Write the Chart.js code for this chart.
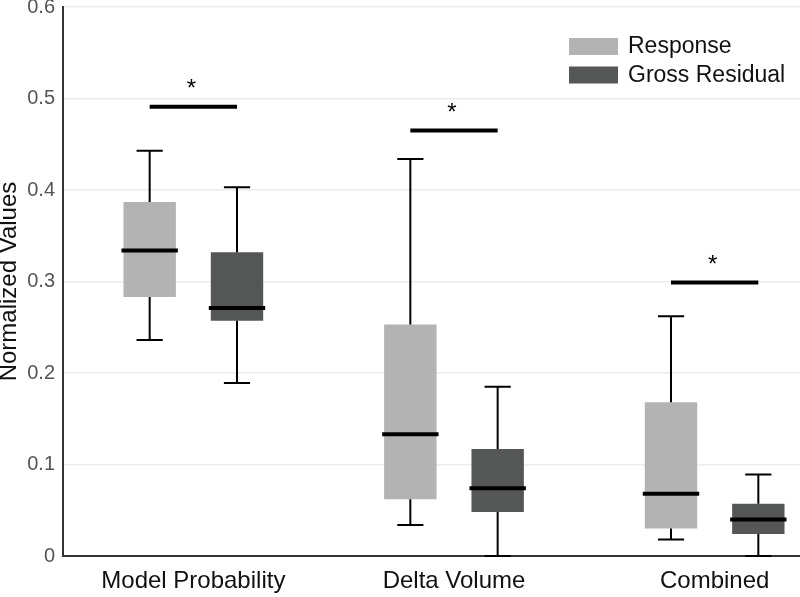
<!DOCTYPE html>
<html>
<head>
<meta charset="utf-8">
<script src="https://cdn.jsdelivr.net/npm/chart.js@4"></script>
<style>
  html, body { margin: 0; padding: 0; background: #fff; overflow: hidden; }
  #wrap { width: 845px; height: 597px; }
</style>
</head>
<body>
<div id="wrap"><canvas id="chart" width="845" height="597"></canvas></div>
<script>
// categories and box values
const categories = ['Model Probability', 'Delta Volume', 'Combined'];
const seriesNames = ['Response', 'Gross Residual'];
const seriesColors = ['#b3b3b3', '#555756'];

const responseLow    = [0.236, 0.034, 0.018];
const responseQ1     = [0.283, 0.062, 0.030];
const responseMedian = [0.334, 0.133, 0.068];
const responseQ3     = [0.387, 0.253, 0.168];
const responseHigh   = [0.443, 0.434, 0.262];

const grossLow    = [0.189, 0.000, 0.000];
const grossQ1     = [0.257, 0.048, 0.024];
const grossMedian = [0.271, 0.074, 0.040];
const grossQ3     = [0.332, 0.117, 0.057];
const grossHigh   = [0.403, 0.185, 0.089];

// significance bars (y value of each bar)
const sigBarY = [0.491, 0.465, 0.299];
const sigLabel = '*';

const yTicks = [0, 0.1, 0.2, 0.3, 0.4, 0.5, 0.6];

const FONT = '"Liberation Sans", Arial, sans-serif';

const boxStats = [
  { low: responseLow, q1: responseQ1, med: responseMedian, q3: responseQ3, high: responseHigh },
  { low: grossLow, q1: grossQ1, med: grossMedian, q3: grossQ3, high: grossHigh }
];

// whiskers, medians, significance marks and legend
const boxExtras = {
  id: 'boxExtras',
  afterDatasetsDraw(chart) {
    const ctx = chart.ctx;
    const y = chart.scales.y;
    ctx.save();
    ctx.strokeStyle = '#000';

    boxStats.forEach((s, di) => {
      const meta = chart.getDatasetMeta(di);
      meta.data.forEach((bar, i) => {
        const x = bar.x;
        const w = bar.width;
        const capW = w / 2;
        ctx.lineWidth = 2;
        ctx.beginPath();
        ctx.moveTo(x, y.getPixelForValue(s.q3[i]));
        ctx.lineTo(x, y.getPixelForValue(s.high[i]));
        ctx.moveTo(x, y.getPixelForValue(s.q1[i]));
        ctx.lineTo(x, y.getPixelForValue(s.low[i]));
        ctx.moveTo(x - capW / 2, y.getPixelForValue(s.high[i]));
        ctx.lineTo(x + capW / 2, y.getPixelForValue(s.high[i]));
        ctx.moveTo(x - capW / 2, y.getPixelForValue(s.low[i]));
        ctx.lineTo(x + capW / 2, y.getPixelForValue(s.low[i]));
        ctx.stroke();

        // median
        ctx.lineWidth = 4;
        ctx.beginPath();
        ctx.moveTo(x - w / 2 - 2, y.getPixelForValue(s.med[i]));
        ctx.lineTo(x + w / 2 + 2, y.getPixelForValue(s.med[i]));
        ctx.stroke();
      });
    });

    // significance bars
    const m0 = chart.getDatasetMeta(0);
    const m1 = chart.getDatasetMeta(1);
    ctx.fillStyle = '#000';
    ctx.font = '24px ' + FONT;
    ctx.textAlign = 'center';
    ctx.textBaseline = 'middle';
    sigBarY.forEach((v, i) => {
      const x0 = m0.data[i].x;
      const x1 = m1.data[i].x;
      const py = y.getPixelForValue(v);
      ctx.lineWidth = 4;
      ctx.beginPath();
      ctx.moveTo(x0, py);
      ctx.lineTo(x1, py);
      ctx.stroke();
      ctx.fillText(sigLabel, (x0 + x1) / 2 - 2, py - 17);
    });

    // legend in the top right corner
    const lx = 569, ly = 38;
    ctx.font = '23px ' + FONT;
    ctx.textAlign = 'left';
    seriesNames.forEach((name, i) => {
      const top = ly + i * 28.5;
      ctx.fillStyle = seriesColors[i];
      ctx.fillRect(lx, top, 49, 17);
      ctx.fillStyle = '#111';
      ctx.fillText(name, lx + 59, top + 9);
    });
    ctx.restore();
  }
};

new Chart(document.getElementById('chart'), {
  type: 'bar',
  data: {
    labels: categories,
    datasets: boxStats.map((s, di) => ({
      label: seriesNames[di],
      data: s.q1.map((v, i) => [v, s.q3[i]]),
      backgroundColor: seriesColors[di],
      borderWidth: 0,
      categoryPercentage: 0.67,
      barPercentage: 0.6
    }))
  },
  options: {
    responsive: false,
    animation: false,
    devicePixelRatio: 1,
    layout: { padding: { top: 7, right: 0, left: 0, bottom: 0 } },
    plugins: {
      legend: { display: false },
      tooltip: { enabled: false }
    },
    scales: {
      x: {
        grid: { display: false, drawTicks: false },
        border: { display: true, color: '#333', width: 2 },
        ticks: { color: '#111', font: { family: FONT, size: 24 }, padding: 11 },
        afterFit(scale) { scale.height = 41; scale.paddingLeft = 0; scale.paddingRight = 0; }
      },
      y: {
        min: 0,
        max: 0.6,
        afterBuildTicks(scale) { scale.ticks = yTicks.map(v => ({ value: v })); },
        grid: { color: '#ececec', lineWidth: 1.5, drawTicks: false },
        border: { display: true, color: '#333', width: 2 },
        ticks: {
          color: '#555',
          font: { family: FONT, size: 20 },
          padding: 8,
          callback: v => (v === 0 ? '0' : v.toFixed(1))
        },
        title: {
          display: true,
          text: 'Normalized Values',
          color: '#111',
          font: { family: FONT, size: 24, lineHeight: 0.8 },
          padding: 0
        },
        afterFit(scale) { scale.width = 63; scale.paddingTop = 0; scale.paddingBottom = 0; }
      }
    }
  },
  plugins: [boxExtras]
});
</script>
</body>
</html>
